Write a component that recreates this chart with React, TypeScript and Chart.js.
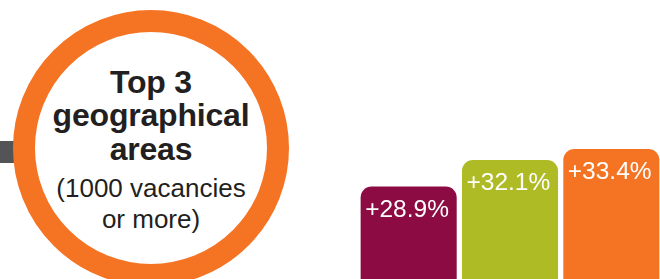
import React, { useEffect, useRef } from "react";
import { Chart, registerables } from "chart.js";

Chart.register(...registerables);

const categories = ["Area 1", "Area 2", "Area 3"];
const growthValues = [28.9, 32.1, 33.4];
const valueLabels = ["+28.9%", "+32.1%", "+33.4%"];
const barColors = ["#8C0B43", "#AEBB25", "#F47424"];

const FONT = "'Liberation Sans', Arial, Helvetica, sans-serif";

const labelPlugin = {
  id: "barLabels",
  afterDatasetsDraw(chart: any) {
    const ctx = chart.ctx;
    const meta = chart.getDatasetMeta(0);
    ctx.save();
    ctx.fillStyle = "#ffffff";
    ctx.font = `24.5px ${FONT}`;
    ctx.textAlign = "left";
    ctx.textBaseline = "alphabetic";
    meta.data.forEach((el: any, i: number) => {
      ctx.fillText(valueLabels[i], el.x - el.width / 2 + 4.5, el.y + 30);
    });
    ctx.restore();
  },
};

export default function App() {
  const ref = useRef<HTMLCanvasElement | null>(null);

  useEffect(() => {
    if (!ref.current) return;
    const chart = new Chart(ref.current, {
      type: "bar",
      data: {
        labels: categories,
        datasets: [
          {
            data: growthValues,
            backgroundColor: barColors,
            borderWidth: 0,
            borderRadius: { topLeft: 11, topRight: 11, bottomLeft: 0, bottomRight: 0 },
            borderSkipped: false,
            barPercentage: 0.948,
            categoryPercentage: 1,
          },
        ],
      },
      options: {
        animation: false,
        responsive: false,
        maintainAspectRatio: false,
        layout: { padding: 0 },
        plugins: { legend: { display: false }, tooltip: { enabled: false } },
        scales: {
          x: { display: false },
          y: { display: false, min: 17.8, max: 51.3 },
        },
      },
      plugins: [labelPlugin],
    });
    return () => chart.destroy();
  }, []);

  const textColor = "#231F20";
  const line = (text: string, top: number, size: number, bold: boolean) => (
    <div
      style={{
        position: "absolute",
        left: 0,
        width: 302,
        top,
        textAlign: "center",
        fontFamily: FONT,
        fontSize: size,
        lineHeight: `${size}px`,
        fontWeight: bold ? 700 : 400,
        color: textColor,
        whiteSpace: "nowrap",
        letterSpacing: bold ? "-0.2px" : "0px",
      }}
    >
      {text}
    </div>
  );

  return (
    <div
      style={{
        position: "absolute",
        left: 0,
        top: 0,
        width: 660,
        height: 279,
        overflow: "hidden",
        background: "#ffffff",
      }}
    >
      <div
        style={{
          position: "absolute",
          left: 0,
          top: 141,
          width: 24,
          height: 22,
          background: "#535456",
        }}
      />
      <div
        style={{
          position: "absolute",
          left: 13,
          top: 10,
          width: 276,
          height: 276,
          boxSizing: "border-box",
          border: "22px solid #F47424",
          borderRadius: "50%",
          background: "#ffffff",
        }}
      />
      {line("Top 3", 66, 32, true)}
      {line("geographical", 99, 32, true)}
      {line("areas", 133, 32, true)}
      {line("(1000 vacancies", 175, 26, false)}
      {line("or more)", 206, 26, false)}
      <div style={{ position: "absolute", left: 358, top: 0, width: 304, height: 279 }}>
        <canvas ref={ref} width={304} height={279} style={{ display: "block" }} />
      </div>
    </div>
  );
}
